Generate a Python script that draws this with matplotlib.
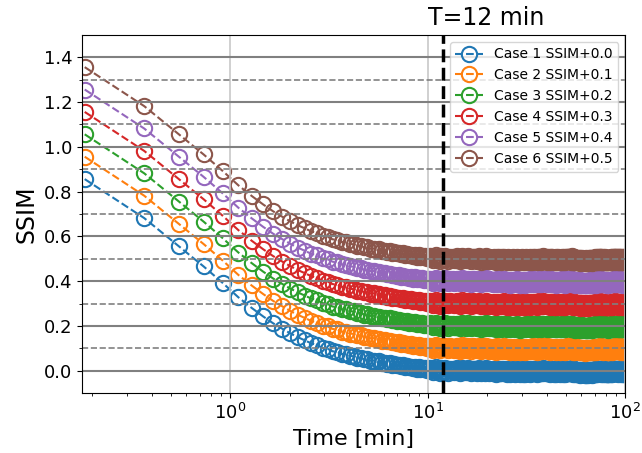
import numpy as np
import matplotlib
matplotlib.use("Agg")
import matplotlib.pyplot as plt
from matplotlib.ticker import MultipleLocator, FixedLocator

# sampling interval of the SSIM curve (11 s) in minutes
dt_min = 11 / 60

# case 1 SSIM: fast decay then flat noisy tail
ssim_decay = [0.856, 0.682, 0.556, 0.466, 0.392, 0.328, 0.281, 0.243, 0.212, 0.188,
              0.167, 0.150, 0.136, 0.123, 0.115, 0.102, 0.098, 0.087, 0.085, 0.075,
              0.074, 0.066, 0.065, 0.058, 0.058, 0.051, 0.052, 0.045, 0.046, 0.040,
              0.042, 0.035, 0.037, 0.031, 0.034, 0.027, 0.030, 0.024, 0.027, 0.021,
              0.024, 0.018, 0.021, 0.015, 0.019, 0.012, 0.017, 0.010, 0.015, 0.008,
              0.013, 0.006, 0.011, 0.004, 0.009]
ssim_tail = [
    0.012, 0.003, -0.006, 0.009, 0.015, -0.002, 0.006, -0.009, 0.011, 0.001, -0.004, 0.013, 0.007, -0.008, 0.004, 0.010, -0.001, 0.008, -0.006, 0.005,
    -0.003, 0.011, 0.002, -0.010, 0.007, 0.014, -0.005, 0.003, 0.009, -0.007, 0.001, 0.012, -0.002, 0.006, -0.011, 0.004, 0.010, -0.004, 0.008, 0.000,
    0.006, -0.008, 0.003, 0.011, -0.005, -0.012, 0.007, 0.002, -0.003, 0.009, -0.009, 0.004, 0.013, -0.006, 0.001, -0.010, 0.008, 0.005, -0.002, -0.007,
    0.004, -0.011, 0.007, -0.004, 0.002, -0.014, 0.009, -0.006, -0.001, 0.006, -0.009, 0.003, -0.012, 0.008, -0.003, 0.001, -0.008, 0.010, -0.005, -0.010,
    0.002, -0.013, -0.004, 0.007, -0.009, 0.000, -0.015, 0.005, -0.007, -0.002, 0.004, -0.011, 0.006, -0.006, -0.014, 0.003, -0.003, -0.010, 0.008, -0.008,
    -0.001, -0.012, 0.005, -0.007, -0.016, 0.002, -0.004, -0.010, 0.006, -0.013, -0.002, 0.004, -0.009, -0.015, 0.001, -0.006, 0.007, -0.011, -0.003, -0.008,
    0.003, -0.010, -0.005, 0.008, -0.013, -0.001, 0.005, -0.008, -0.012, 0.002, -0.006, 0.009, -0.004, -0.011, 0.000, 0.006, -0.009, -0.002, 0.004, -0.014,
    0.007, -0.006, 0.002, -0.011, 0.010, -0.003, -0.008, 0.005, 0.001, -0.012, 0.008, -0.004, 0.003, -0.009, 0.011, -0.001, -0.007, 0.006, -0.005, 0.000,
    -0.008, 0.004, -0.002, 0.009, -0.012, 0.001, -0.006, 0.007, -0.010, -0.003, 0.005, -0.014, 0.002, 0.008, -0.007, -0.001, 0.006, -0.011, 0.003, -0.005,
    -0.009, 0.002, -0.013, 0.005, -0.004, -0.010, 0.007, -0.015, -0.002, 0.003, -0.008, -0.012, 0.006, -0.006, 0.001, -0.011, -0.003, 0.004, -0.014, -0.001,
    0.005, -0.007, -0.012, 0.003, -0.002, 0.008, -0.010, -0.005, 0.001, -0.013, 0.006, -0.003, -0.009, 0.004, -0.015, 0.000, 0.007, -0.006, -0.011, 0.002,
    -0.004, 0.009, -0.008, 0.001, 0.006, -0.011, 0.003, -0.006, 0.010, -0.002, -0.009, 0.005, 0.000, -0.012, 0.008, -0.003, 0.004, -0.007, 0.011, -0.005,
    -0.010, 0.003, -0.014, -0.004, 0.006, -0.012, -0.001, -0.008, 0.004, -0.016, -0.006, 0.002, -0.011, -0.003, 0.005, -0.013, -0.007, 0.001, -0.009, -0.002,
    -0.012, -0.004, 0.002, -0.015, -0.007, 0.004, -0.010, -0.018, -0.003, -0.009, 0.001, -0.013, -0.006, -0.016, 0.003, -0.011, -0.005, -0.014, -0.001, -0.008,
    -0.015, -0.006, 0.001, -0.012, -0.019, -0.004, -0.010, 0.002, -0.014, -0.008, -0.017, -0.002, -0.011, -0.005, -0.016, 0.000, -0.013, -0.007, -0.018, -0.003,
    -0.009, 0.002, -0.014, -0.005, -0.011, 0.004, -0.016, -0.008, -0.001, -0.013, -0.004, 0.003, -0.012, -0.007, -0.017, -0.002, -0.010, 0.001, -0.015, -0.006,
    -0.003, -0.011, 0.005, -0.008, -0.014, 0.000, -0.006, 0.007, -0.012, -0.002, -0.009, 0.003, -0.015, -0.004, 0.006, -0.010, -0.001, -0.013, 0.002, -0.007,
    0.004, -0.009, -0.002, 0.008, -0.012, -0.005, 0.003, -0.008, 0.010, -0.004, -0.011, 0.001, 0.006, -0.013, -0.001, 0.005, -0.007, 0.009, -0.010, -0.003,
    -0.006, 0.003, -0.012, 0.006, -0.003, -0.009, 0.001, -0.014, 0.005, -0.007, 0.002, -0.011, -0.001, 0.007, -0.013, -0.004, 0.004, -0.010, -0.002, -0.008,
    -0.012, 0.001, -0.007, -0.015, 0.004, -0.009, -0.003, -0.013, 0.002, -0.010, -0.016, -0.001, -0.006, 0.005, -0.011, -0.004, -0.014, 0.000, -0.008, -0.005,
    0.003, -0.010, -0.005, 0.007, -0.013, -0.002, 0.004, -0.008, -0.012, 0.001, 0.006, -0.009, -0.003, -0.014, 0.005, -0.006, 0.002, -0.011, 0.000, -0.007,
    0.008, -0.005, 0.002, -0.010, 0.006, -0.002, -0.008, 0.010, -0.004, 0.003, -0.012, 0.005, -0.001, 0.009, -0.007, 0.000, -0.011, 0.004, -0.003, 0.007,
    -0.009, 0.004, -0.006, 0.001, -0.013, 0.006, -0.002, -0.010, 0.008, -0.005, 0.000, -0.012, 0.003, -0.007, 0.009, -0.004, -0.011, 0.002, -0.001, -0.008,
    0.005, -0.011, -0.003, 0.002, -0.014, 0.007, -0.006, -0.009, 0.001, -0.012, 0.004, -0.002, -0.015, 0.006, -0.007, -0.004, 0.003, -0.010, -0.001, -0.013,
    0.004, -0.008, 0.001, -0.005, 0.007, -0.011, -0.002, 0.003, -0.009, 0.000,
]
ssim_case1 = np.array(ssim_decay + ssim_tail)

case_names = ["Case 1", "Case 2", "Case 3", "Case 4", "Case 5", "Case 6"]
offsets = [0.0, 0.1, 0.2, 0.3, 0.4, 0.5]
t_mark = 12  # min

t = dt_min * np.arange(1, len(ssim_case1) + 1)

fig, ax = plt.subplots(figsize=(6.42, 4.53), dpi=100)
fig.subplots_adjust(left=0.128, right=0.974, bottom=0.132, top=0.923)

for name, off in zip(case_names, offsets):
    ax.plot(t, ssim_case1 + off, 'o--', markersize=11, markerfacecolor='none',
            markeredgewidth=1.5, lw=1.5, label=f"{name} SSIM+{off:.1f}")

ax.set_xscale('log')
ax.set_xlim(0.178, 100)
ax.set_ylim(-0.1, 1.5)
ax.yaxis.set_major_locator(MultipleLocator(0.2))
ax.yaxis.set_minor_locator(FixedLocator([0.1, 0.3, 0.5, 0.7, 0.9, 1.1, 1.3]))

ax.set_axisbelow(False)
ax.grid(axis='x', which='major', color='#c8c8c8', lw=1.2)
ax.grid(axis='y', which='major', color='gray', lw=1.5)
ax.grid(axis='y', which='minor', color='gray', lw=1.2, linestyle='--')
for sp in ax.spines.values():
    sp.set_zorder(6)

ax.axvline(t_mark, color='black', linestyle='--', lw=2.5, zorder=5)
ax.text(10, 1.545, f"T={t_mark} min", fontsize=17)

ax.set_xlabel("Time [min]", fontsize=16)
ax.set_ylabel("SSIM", fontsize=17)
ax.tick_params(labelsize=13)
ax.legend(loc='upper right', fontsize=10)

fig.savefig("out.png", dpi=100)
